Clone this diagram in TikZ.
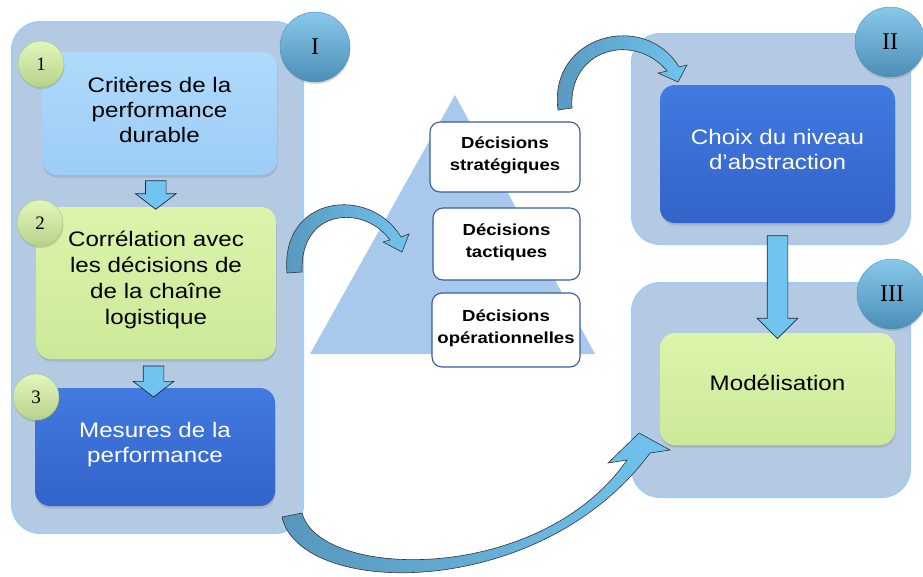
\documentclass[tikz,border=0pt]{standalone}
\usepackage{fontspec}
\setmainfont{Liberation Sans}
\newfontfamily\romanfont{Liberation Serif}
\newfontfamily\boxfont[FakeStretch=1.15]{Liberation Sans}
\newfontfamily\decfont[FakeStretch=1.16]{Liberation Sans}
\usetikzlibrary{shapes.arrows,shadows,calc}
\definecolor{panelfill}{HTML}{B4CAE3}
\definecolor{panelline}{HTML}{A2CCF3}
\definecolor{trifill}{HTML}{A9C9EC}
\definecolor{skytop}{HTML}{AEDBFC}
\definecolor{skybot}{HTML}{9DCCF5}
\definecolor{limetop}{HTML}{DBF4AB}
\definecolor{limebot}{HTML}{CCE999}
\definecolor{royaltop}{HTML}{417AE0}
\definecolor{royalbot}{HTML}{3363CA}
\definecolor{disctop}{HTML}{88C8E9}
\definecolor{discbot}{HTML}{4C8EB7}
\definecolor{decline}{HTML}{3A5C9E}
\definecolor{arrowdark}{HTML}{5797BD}
\definecolor{arrowlight}{HTML}{70C4EF}
\newcommand\liftup[2][2pt]{\raisebox{#1}[\height][\depth]{\begin{tabular}{@{}c@{}}#2\end{tabular}}}
\begin{document}
\begin{tikzpicture}[x=1pt,y=-1pt]
    \tikzset{
      panel/.style={draw=panelline,line width=2pt,fill=panelfill,rounded corners=28pt},
      stepbox/.style={rounded corners=15pt,font=\boxfont\fontsize{21}{25}\selectfont,
        drop shadow={opacity=0.3,shadow xshift=0.5pt,shadow yshift=-2.5pt}},
      skybox/.style={stepbox,top color=skytop,bottom color=skybot},
      limebox/.style={stepbox,top color=limetop,bottom color=limebot},
      royalbox/.style={stepbox,top color=royaltop,bottom color=royalbot,text=white},
      decbox/.style={draw=decline,fill=white,line width=1.1pt,rounded corners=10pt,
        font=\decfont\bfseries\fontsize{16}{21.5}\selectfont},
      numdisc/.style={circle,minimum size=46pt,inner sep=0pt,top color=limetop!80!white,bottom color=limebot!90!black,
        draw=limebot!85!black,line width=0.4pt,font=\romanfont\fontsize{19}{19}\selectfont,
        drop shadow={opacity=0.3,shadow xshift=0.5pt,shadow yshift=-2pt}},
      phasedisc/.style={circle,minimum size=70pt,inner sep=0pt,top color=disctop,bottom color=discbot,
        draw=discbot,line width=0.4pt,font=\romanfont\fontsize{24}{24}\selectfont,
        drop shadow={opacity=0.3,shadow xshift=0.5pt,shadow yshift=-2pt}},
      downarrow/.style={single arrow,rotate=-90,inner sep=10pt,single arrow head extend=10pt,
        fill=arrowlight,draw=black!70!arrowdark,line width=0.7pt},
      bentarrow/.style={draw=black!80,line width=0.6pt,left color=arrowdark,right color=arrowlight}
    }
    \useasboundingbox (0,0) rectangle (923,576);
    \draw[panel] (12,22) rectangle (303,533);
    \draw[panel] (632,34) rectangle (910,244);
    \draw[panel] (632,283) rectangle (910,497);
    \fill[trifill] (455,95) -- (595,354) -- (310,354) -- cycle;

    \node[skybox,minimum width=235pt,minimum height=123pt] (crit) at (159.5,113.5) {\liftup[1pt]{Critères de la\\performance\\durable}};
    \node[limebox,minimum width=240pt,minimum height=152pt,font=\boxfont\fontsize{21}{26}\selectfont] (corr) at (156,283) {\liftup[3pt]{Corrélation avec\\les décisions de\\de la chaîne\\logistique}};
    \node[royalbox,minimum width=240pt,minimum height=118pt] (mes) at (155,447) {\liftup{Mesures de la\\performance}};
    \node[royalbox,minimum width=235pt,minimum height=138pt] (choix) at (777.5,154) {\liftup{Choix du niveau\\d’abstraction}};
    \node[limebox,minimum width=235pt,minimum height=112pt] (model) at (777.5,389) {\liftup[4pt]{Modélisation}};

    \node[decbox,minimum width=150pt,minimum height=70pt] (strat) at (505,157) {\liftup{Décisions\\stratégiques}};
    \node[decbox,minimum width=147pt,minimum height=72pt] (tact) at (506.5,244) {\liftup{Décisions\\tactiques}};
    \node[decbox,minimum width=148pt,minimum height=74pt] (oper) at (506,330) {\liftup{Décisions\\opérationnelles}};

    \node[downarrow,minimum height=28pt,single arrow tip angle=105] (d1) at ($(crit.south)!0.5!(corr.north)+(-2,0)$) {};
    \node[downarrow,minimum height=31pt,single arrow tip angle=105] (d2) at ($(corr.south)!0.5!(mes.north)+(-2,4)$) {};
    \node[downarrow,minimum height=103pt,single arrow tip angle=90] (d3) at ($(choix.south)!0.5!(model.north)+(0,4)$) {};

    \node[numdisc] (n1) at (41,64) {1};
    \node[numdisc] (n2) at (40,223) {2};
    \node[numdisc] (n3) at (36,397) {3};
    \node[phasedisc] (p1) at (315,47) {I};
    \node[phasedisc] (p2) at (890,42) {II};
    \node[phasedisc] (p3) at (892,294) {III};

    \draw[bentarrow] (287,273) .. controls (280,195) and (370,185) .. (401,237) -- (409,234) -- (402,252)
      -- (383,242) -- (390,240) .. controls (365,205) and (300,207) .. (302,272) -- cycle;
    \draw[bentarrow] (558,110) .. controls (548,35) and (645,10) .. (679,67) -- (687,65) -- (678,82)
      -- (658,73) -- (667,71) .. controls (635,32) and (568,48) .. (572,108) -- cycle;
    \draw[bentarrow] (282,517) .. controls (300,598) and (540,602) .. (650,453) -- (670,450) -- (639,433)
      -- (608,463) -- (627,460) .. controls (540,585) and (320,580) .. (302,513) -- cycle;
\end{tikzpicture}
\end{document}
